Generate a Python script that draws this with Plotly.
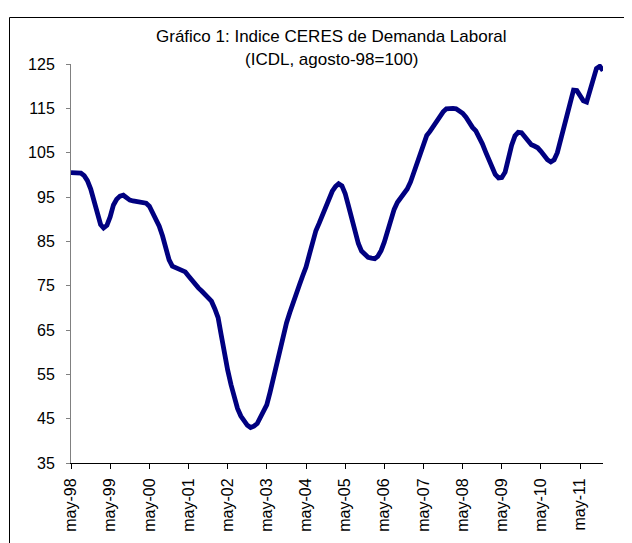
import pandas as pd
import plotly.graph_objects as go

# Monthly index values, May-1998 .. Dec-2011
start_month = "1998-05-01"
icdl = [
    100.5, 100.5, 100.5, 100.4, 99.8, 98.7, 96.8, 94.0, 91.7, 88.8, 88.0, 88.6,
    90.5, 93.2, 94.5, 95.2, 95.4, 94.8, 94.3, 94.1, 94.0, 93.9, 93.9, 93.6,
    92.9, 91.4, 90.0, 88.4, 86.2, 83.3, 80.8, 79.4, 79.0, 78.6, 78.4, 78.1,
    77.2, 76.2, 75.2, 74.5, 73.8, 73.1, 72.5, 71.5, 69.8, 67.8, 64.0, 59.5,
    56.0, 52.7, 49.7, 47.3, 45.6, 44.4, 43.5, 43.0, 43.3, 43.9, 45.3, 46.5,
    48.1, 51.0, 54.1, 57.1, 60.6, 63.9, 66.6, 68.9, 70.8, 72.8, 75.2, 77.3,
    79.2, 82.0, 84.8, 87.4, 89.1, 90.8, 92.9, 94.9, 96.3, 97.4, 98.0, 97.5,
    95.8, 93.0, 90.2, 87.2, 84.5, 82.8, 81.9, 81.4, 81.2, 81.1, 81.6, 82.9,
    84.8, 87.5, 90.0, 92.2, 93.8, 94.8, 95.7, 96.8, 98.4, 100.6, 103.2, 105.4,
    107.3, 108.9, 109.8, 110.9, 112.3, 113.3, 114.2, 114.9, 115.0, 115.0, 114.9, 114.5,
    113.9, 113.0, 111.7, 110.7, 109.9, 108.6, 107.0, 105.2, 103.2, 101.4, 100.1, 99.3,
    99.4, 100.6, 103.8, 106.7, 108.8, 109.6, 109.5, 108.7, 107.6, 106.8, 106.5, 106.1,
    105.3, 104.3, 103.4, 102.9, 103.4, 105.0, 108.0, 111.2, 113.7, 116.5, 119.1, 119.0,
    118.0, 116.7, 116.4, 119.0, 121.7, 124.0, 124.5, 123.5,
]
dates = pd.date_range(start_month, periods=len(icdl), freq="MS")

tick_dates = pd.date_range("1998-05-01", "2011-05-01", freq="12MS")
tick_labels = ["may-98", "may-99", "may-00", "may-01", "may-02", "may-03", "may-04",
               "may-05", "may-06", "may-07", "may-08", "may-09", "may-10", "may-11"]

title_line1 = "Gráfico 1: Indice CERES de Demanda Laboral"
title_line2 = "(ICDL, agosto-98=100)"

# page body has an 8px margin; figure pixels = window pixels - 8
W, H = 624, 535
L, T, R, B = 63, 56, 595, 455   # plot box in figure pixels
pw, ph = R - L, B - T


def px(x):
    return (x - 8 - L) / pw


def py(y):
    return (B - (y - 8)) / ph


fig = go.Figure()
fig.add_trace(go.Scatter(
    x=dates, y=icdl, mode="lines",
    line=dict(color="#000080", width=4.8),
    hoverinfo="x+y", showlegend=False,
))

font_family = "Liberation Sans, Arial, sans-serif"

fig.update_layout(
    width=W, height=H,
    margin=dict(l=L, r=W - R, t=T, b=H - B),
    paper_bgcolor="white", plot_bgcolor="white",
    font=dict(family=font_family, size=16, color="black"),
    xaxis=dict(
        range=[dates[0], dates[-1]],
        tickvals=tick_dates, ticktext=tick_labels,
        tickangle=-90, showgrid=False, zeroline=False,
        showline=True, linecolor="black", linewidth=1,
        ticks="outside", ticklen=5, tickcolor="black",
        tickfont=dict(size=16), ticklabelstandoff=3,
    ),
    yaxis=dict(
        range=[35, 125], dtick=10, tick0=35,
        showgrid=False, zeroline=False,
        showline=True, linecolor="#808080", linewidth=1,
        ticks="outside", ticklen=4, tickcolor="#808080",
        tickfont=dict(size=16), ticklabelstandoff=8,
    ),
    annotations=[
        dict(text=title_line1, xref="paper", yref="paper",
             x=px(331), y=py(37),
             xanchor="center", yanchor="middle", showarrow=False,
             font=dict(size=17)),
        dict(text=title_line2, xref="paper", yref="paper",
             x=px(331), y=py(59),
             xanchor="center", yanchor="middle", showarrow=False,
             font=dict(size=17)),
    ],
    shapes=[
        dict(type="line", xref="paper", yref="paper",
             x0=px(9.5), x1=px(9.5),
             y0=py(560), y1=py(17.5),
             line=dict(color="black", width=1)),
        dict(type="line", xref="paper", yref="paper",
             x0=px(9.5), x1=px(650),
             y0=py(17.5), y1=py(17.5),
             line=dict(color="black", width=1)),
    ],
)

fig.write_html("out.html")
